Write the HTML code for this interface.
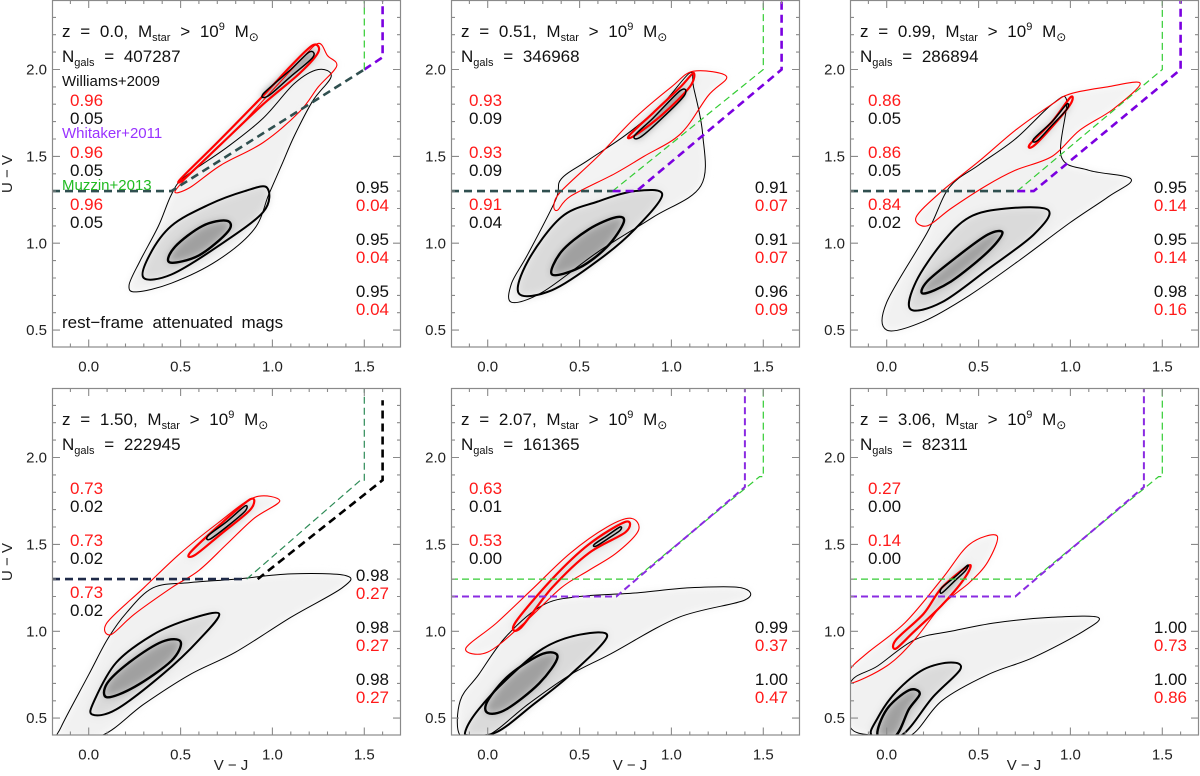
<!DOCTYPE html>
<html><head><meta charset="utf-8"><style>
html,body{margin:0;padding:0;background:#fff;}
svg{display:block;font-family:"Liberation Sans",sans-serif;}
</style></head><body>
<svg id="chart" width="1200" height="776" viewBox="0 0 1200 776">
<defs>
<filter id="blur" x="-20%" y="-20%" width="140%" height="140%"><feGaussianBlur stdDeviation="4"/></filter>
</defs>
</svg>
<script>
// ---- data ----
const xTicks = [0.0, 0.5, 1.0, 1.5];
const yTicks = [0.5, 1.0, 1.5, 2.0];
const xTickLabels = ["0.0","0.5","1.0","1.5"];
const yTickLabels = ["0.5","1.0","1.5","2.0"];
const redshifts = ["0.0","0.51","0.99","1.50","2.07","3.06"];
const ngals = ["407287","346968","286894","222945","161365","82311"];
const leftRed = [["0.96","0.96","0.96"],["0.93","0.93","0.91"],["0.86","0.86","0.84"],["0.73","0.73","0.73"],["0.63","0.53"],["0.27","0.14"]];
const leftBlack = [["0.05","0.05","0.05"],["0.09","0.09","0.04"],["0.05","0.05","0.02"],["0.02","0.02","0.02"],["0.01","0.00"],["0.00","0.00"]];
const rightBlack = [["0.95","0.95","0.95"],["0.91","0.91","0.96"],["0.95","0.95","0.98"],["0.98","0.98","0.98"],["0.99","1.00"],["1.00","1.00"]];
const rightRed = [["0.04","0.04","0.04"],["0.07","0.07","0.09"],["0.14","0.14","0.16"],["0.27","0.27","0.27"],["0.37","0.47"],["0.73","0.86"]];

const blueOuter = [
 [[0.22,0.76],[0.26,0.72],[0.45,0.77],[0.7,0.9],[0.9,1.08],[0.98,1.28],[1.05,1.45],[1.12,1.62],[1.22,1.82],[1.32,1.96],[1.25,2.0],[1.12,1.92],[0.95,1.72],[0.75,1.55],[0.52,1.38],[0.45,1.28],[0.38,1.1],[0.28,0.9]],
 [[0.13,0.66],[0.3,0.72],[0.6,0.95],[0.9,1.15],[1.16,1.33],[1.17,1.63],[1.12,1.9],[1.1,1.98],[0.95,1.8],[0.76,1.63],[0.55,1.48],[0.4,1.37],[0.37,1.25],[0.22,0.94],[0.13,0.77]],
 [[0.0,0.5],[0.2,0.55],[0.45,0.7],[0.72,0.9],[1.0,1.12],[1.21,1.27],[1.33,1.37],[1.1,1.42],[0.95,1.5],[0.98,1.82],[0.9,1.8],[0.7,1.6],[0.5,1.45],[0.34,1.32],[0.22,1.06],[0.0,0.66]],
 [[-0.15,0.4],[0.07,0.4],[0.3,0.58],[0.55,0.75],[0.8,0.88],[1.1,1.08],[1.38,1.25],[1.4,1.32],[1.1,1.33],[0.8,1.3],[0.55,1.28],[0.35,1.25],[0.2,1.1],[0.1,0.95],[0.0,0.75],[-0.15,0.45]],
 [[-0.15,0.4],[0.0,0.4],[0.22,0.58],[0.45,0.75],[0.67,0.87],[1.04,1.08],[1.4,1.18],[1.38,1.25],[1.1,1.25],[0.8,1.22],[0.5,1.2],[0.3,1.15],[0.1,0.97],[-0.05,0.75],[-0.15,0.6]],
 [[-0.2,0.45],[-0.05,0.4],[0.13,0.4],[0.3,0.6],[0.55,0.75],[0.8,0.85],[1.07,1.0],[1.15,1.08],[0.9,1.08],[0.6,1.05],[0.35,1.0],[0.15,0.95],[-0.05,0.8],[-0.2,0.7]]
];
const blueMid = [
 [[0.3,0.8],[0.45,0.82],[0.7,0.98],[0.95,1.18],[0.97,1.32],[0.85,1.3],[0.65,1.22],[0.45,1.1],[0.33,0.93]],
 [[0.17,0.71],[0.35,0.73],[0.6,0.9],[0.8,1.08],[0.95,1.28],[0.8,1.3],[0.6,1.24],[0.4,1.15],[0.22,0.9]],
 [[0.13,0.62],[0.3,0.66],[0.55,0.85],[0.8,1.05],[0.88,1.19],[0.65,1.2],[0.45,1.15],[0.3,1.0],[0.16,0.78]],
 [[0.02,0.52],[0.15,0.55],[0.4,0.75],[0.6,0.95],[0.71,1.1],[0.55,1.07],[0.35,0.98],[0.15,0.82],[0.03,0.6]],
 [[-0.1,0.4],[0.05,0.42],[0.25,0.58],[0.45,0.75],[0.65,0.97],[0.5,0.98],[0.3,0.9],[0.1,0.72],[-0.05,0.55],[-0.12,0.43]],
 [[-0.08,0.4],[0.08,0.4],[0.25,0.62],[0.4,0.78],[0.35,0.82],[0.2,0.78],[0.05,0.65],[-0.05,0.5]]
];
const blueInner = [
 [[0.44,0.89],[0.6,0.93],[0.76,1.07],[0.75,1.13],[0.62,1.1],[0.47,0.98]],
 [[0.35,0.82],[0.5,0.86],[0.65,0.98],[0.74,1.12],[0.7,1.15],[0.55,1.08],[0.4,0.95]],
 [[0.2,0.71],[0.35,0.78],[0.55,0.95],[0.63,1.06],[0.55,1.05],[0.38,0.92],[0.22,0.78]],
 [[0.1,0.62],[0.25,0.68],[0.45,0.83],[0.5,0.94],[0.4,0.94],[0.22,0.82],[0.1,0.7]],
 [[0.0,0.53],[0.1,0.55],[0.28,0.7],[0.38,0.85],[0.3,0.87],[0.12,0.75],[0.0,0.6]],
 [[-0.05,0.4],[0.05,0.4],[0.12,0.55],[0.18,0.64],[0.12,0.66],[0.0,0.55]]
];
const redOuter = [
 [[0.47,1.3],[0.6,1.45],[0.8,1.65],[1.0,1.88],[1.15,2.05],[1.25,2.15],[1.3,2.08],[1.35,2.02],[1.25,1.9],[1.15,1.76],[0.95,1.58],[0.72,1.45],[0.55,1.32]],
 [[0.36,1.22],[0.4,1.3],[0.6,1.5],[0.8,1.72],[1.0,1.9],[1.12,1.99],[1.3,1.96],[1.2,1.85],[1.05,1.63],[0.85,1.5],[0.69,1.4],[0.45,1.27],[0.38,1.19]],
 [[0.16,1.15],[0.3,1.3],[0.5,1.47],[0.7,1.65],[0.9,1.8],[1.0,1.86],[1.2,1.9],[1.38,1.92],[1.23,1.77],[1.05,1.65],[0.9,1.5],[0.7,1.42],[0.54,1.33],[0.35,1.2],[0.22,1.1]],
 [[0.1,1.05],[0.3,1.25],[0.5,1.45],[0.7,1.62],[0.9,1.77],[1.04,1.75],[0.9,1.65],[0.75,1.5],[0.6,1.35],[0.45,1.25],[0.25,1.1],[0.12,0.98]],
 [[-0.12,0.9],[0.05,1.05],[0.25,1.25],[0.45,1.45],[0.65,1.6],[0.78,1.65],[0.82,1.58],[0.7,1.45],[0.55,1.35],[0.4,1.25],[0.2,1.05],[0.0,0.88]],
 [[-0.2,0.78],[-0.1,0.88],[0.1,1.05],[0.3,1.3],[0.45,1.5],[0.6,1.55],[0.55,1.4],[0.45,1.28],[0.3,1.15],[0.15,0.95],[0.0,0.8],[-0.2,0.7]]
];
const redInner = [
 [[0.5,1.37],[0.7,1.58],[0.95,1.85],[1.1,2.02],[1.22,2.14],[1.25,2.1],[1.15,1.98],[0.95,1.8],[0.72,1.57],[0.53,1.38]],
 [[0.77,1.62],[0.9,1.75],[1.05,1.9],[1.12,1.98],[1.1,1.9],[0.95,1.74],[0.8,1.62]],
 [[0.78,1.57],[0.9,1.7],[1.0,1.84],[1.0,1.8],[0.9,1.67],[0.8,1.56]],
 [[0.55,1.45],[0.7,1.6],[0.88,1.76],[0.88,1.7],[0.72,1.56],[0.58,1.44]],
 [[0.15,1.05],[0.35,1.3],[0.55,1.5],[0.75,1.63],[0.75,1.57],[0.55,1.45],[0.35,1.25],[0.18,1.02]],
 [[0.05,0.95],[0.2,1.1],[0.3,1.25],[0.45,1.38],[0.42,1.3],[0.3,1.15],[0.15,1.0],[0.05,0.9]]
];
const redCore = [
 [[0.95,1.86],[1.1,2.0],[1.2,2.1],[1.22,2.07],[1.1,1.96],[0.98,1.85]],
 [[0.8,1.62],[0.9,1.72],[1.05,1.88],[1.07,1.85],[0.95,1.72],[0.83,1.61]],
 [[0.8,1.6],[0.9,1.7],[0.98,1.8],[0.98,1.77],[0.9,1.68],[0.82,1.59]],
 [[0.65,1.55],[0.75,1.63],[0.85,1.72],[0.85,1.69],[0.75,1.6],[0.66,1.53]],
 [[0.58,1.5],[0.65,1.55],[0.72,1.6],[0.72,1.58],[0.65,1.53],[0.59,1.49]],
 [[0.3,1.25],[0.38,1.32],[0.44,1.38],[0.43,1.35],[0.37,1.29],[0.3,1.22]]
];
// selection-box lines: [panel, colour, width-class, points]
const selLines = [
 [0,"#2f4f4f","thick",[[-0.2,1.3],[0.45,1.3],[1.5,2.0]]],
 [0,"#7b00e0","thick",[[1.5,2.0],[1.6,2.07],[1.6,2.4]]],
 [0,"#33cc33","thin",[[1.5,2.0],[1.5,2.4]]],
 [1,"#2f4f4f","thick",[[-0.2,1.3],[0.68,1.3]]],
 [1,"#33cc33","thin",[[0.68,1.3],[1.5,2.0],[1.5,2.4]]],
 [1,"#7b00e0","thick",[[0.68,1.3],[0.81,1.3],[1.6,2.0],[1.6,2.4]]],
 [2,"#2f4f4f","thick",[[-0.2,1.3],[0.71,1.3]]],
 [2,"#33cc33","thin",[[0.71,1.3],[1.5,2.0],[1.5,2.4]]],
 [2,"#7b00e0","thick",[[0.71,1.3],[0.8,1.3],[1.6,2.0],[1.6,2.4]]],
 [3,"#1f2a48","thick",[[-0.2,1.3],[0.86,1.3]]],
 [3,"#2e8b57","thin",[[0.86,1.3],[1.48,1.87],[1.5,1.87],[1.5,2.4]]],
 [3,"#000000","thick",[[0.92,1.3],[1.6,1.87],[1.6,2.33]]],
 [4,"#33cc33","thin",[[-0.2,1.3],[0.8,1.3],[1.48,1.89],[1.5,1.89],[1.5,2.4]]],
 [4,"#8a2be2","mid",[[-0.2,1.2],[0.7,1.2],[1.4,1.83],[1.4,2.4]]],
 [5,"#33cc33","thin",[[-0.2,1.3],[0.8,1.3],[1.48,1.89],[1.5,1.89],[1.5,2.4]]],
 [5,"#8a2be2","mid",[[-0.2,1.2],[0.7,1.2],[1.4,1.83],[1.4,2.4]]]
];

// ---- layout ----
const NS = "http://www.w3.org/2000/svg";
const svg = document.getElementById("chart");
const panelLefts = [52,451,850], panelTops = [0,388];
const PW = 349, PH = 347.5;
const XMIN=-0.2, XMAX=1.7, YMIN=0.4, YMAX=2.4;
function mk(tag, attrs, parent){ const e=document.createElementNS(NS,tag); for(const k in attrs) e.setAttribute(k,attrs[k]); (parent||svg).appendChild(e); return e; }

for(let p=0;p<6;p++){
  const L = panelLefts[p%3], T = panelTops[Math.floor(p/3)];
  const sx = v => L + (v-XMIN)/(XMAX-XMIN)*PW;
  const sy = v => T + (YMAX-v)/(YMAX-YMIN)*PH;
  const pts = arr => arr.map(d=>sx(d[0]).toFixed(1)+","+sy(d[1]).toFixed(1)).join(" ");
  // smooth closed curve through data vertices (Catmull-Rom)
  const smooth = arr => {
    const P = arr.map(d=>[sx(d[0]),sy(d[1])]); const n=P.length;
    let s = `M${P[0][0].toFixed(1)},${P[0][1].toFixed(1)}`;
    for(let i=0;i<n;i++){
      const p0=P[(i-1+n)%n], p1=P[i], p2=P[(i+1)%n], p3=P[(i+2)%n];
      const c1=[p1[0]+(p2[0]-p0[0])/6, p1[1]+(p2[1]-p0[1])/6];
      const c2=[p2[0]-(p3[0]-p1[0])/6, p2[1]-(p3[1]-p1[1])/6];
      s += `C${c1[0].toFixed(1)},${c1[1].toFixed(1)} ${c2[0].toFixed(1)},${c2[1].toFixed(1)} ${p2[0].toFixed(1)},${p2[1].toFixed(1)}`;
    }
    return s+"Z";
  };
  const g = mk("g",{});
  
  
  const cp = mk("clipPath",{id:"cp"+p},g);
  mk("rect",{x:L,y:T,width:PW,height:PH},cp);
  const plot = mk("g",{"clip-path":"url(#cp"+p+")"},g);
  // density shading
  const dens = mk("g",{filter:"url(#blur)"},plot);
  
  
  mk("path",{d:smooth(blueOuter[p]),fill:"#f1f1f1"},dens);
  mk("path",{d:smooth(redOuter[p]),fill:"#f3f3f3"},dens);
  mk("path",{d:smooth(blueMid[p]),fill:"#dadada"},dens);
  mk("path",{d:smooth(redInner[p]),fill:"#d4d4d4"},dens);
  mk("path",{d:smooth(blueInner[p]),fill:"#a0a0a0"},dens);
  mk("path",{d:smooth(redCore[p]),fill:"#808080"},dens);
  // contours
  const c1 = mk("path",{d:smooth(blueOuter[p]),fill:"none",stroke:"#000","stroke-width":1},plot);
  
  
  const c2 = mk("path",{d:smooth(blueMid[p]),fill:"none",stroke:"#000","stroke-width":2},plot);
  
  
  const c3 = mk("path",{d:smooth(blueInner[p]),fill:"none",stroke:"#000","stroke-width":2.4},plot);
  
  
  const r1 = mk("path",{d:smooth(redOuter[p]),fill:"none",stroke:"#ff0000","stroke-width":1.1},plot);
  
  
  const r2 = mk("path",{d:smooth(redInner[p]),fill:"none",stroke:"#ff0000","stroke-width":2.2},plot);
  
  
  const r3 = mk("path",{d:smooth(redCore[p]),fill:"none",stroke:"#000","stroke-width":1.5},plot);
  
  
  // selection lines
  selLines.filter(s=>s[0]===p).forEach(s=>{
    const w = s[2]==="thick"?2.6:(s[2]==="mid"?2:1.2);
    const da = s[2]==="thick"?"8 5":"7 4";
    const pl = mk("polyline",{points:pts(s[3]),fill:"none",stroke:s[1],"stroke-width":w,"stroke-dasharray":da},plot);
    
    
  });
  // frame
  const fr = mk("rect",{x:L+0.5,y:T+0.5,width:PW-1,height:PH-1,fill:"none",stroke:"#8a8a8a","stroke-width":1.2},g);
  
  
  // ticks
  let d="";
  for(let i=-2;i<=17;i++){ const v=i/10; const x=sx(v); if(x<L+1||x>L+PW-1) continue; const len=(i%5===0)?8:4; d+=`M${x.toFixed(1)},${T+PH}v${-len}M${x.toFixed(1)},${T}v${len}`; }
  for(let i=4;i<=24;i++){ const v=i/10; const y=sy(v); if(y<T+1||y>T+PH-1) continue; const len=(i%5===0)?8:4; d+=`M${L},${y.toFixed(1)}h${len}M${L+PW},${y.toFixed(1)}h${-len}`; }
  const tk = mk("path",{d:d,stroke:"#8a8a8a","stroke-width":1.1,fill:"none"},g);
  
  
  xTicks.forEach((v,i)=>{
    const t = mk("text",{x:sx(v),y:T+PH+24,"text-anchor":"middle","font-size":15,fill:"#222"},g);
    t.textContent = xTickLabels[i];
    
    
  });
  yTicks.forEach((v,i)=>{
    const t = mk("text",{x:L-5,y:sy(v)+5,"text-anchor":"end","font-size":15,fill:"#222"},g);
    t.textContent = yTickLabels[i];
    
    
  });
  // title
  const tt = mk("text",{x:L+10,y:T+37,"font-size":17,fill:"#111","word-spacing":"5px"},g);
  
  
  tt.innerHTML = `z = ${redshifts[p]}, M<tspan font-size="11" dy="4">star</tspan><tspan dy="-4"> &gt; 10</tspan><tspan font-size="11" dy="-7">9</tspan><tspan dy="7"> M</tspan><tspan font-size="12" dy="4">⊙</tspan>`;
  const ng = mk("text",{x:L+10,y:T+62,"font-size":17,fill:"#111","word-spacing":"5px"},g);
  
  
  ng.innerHTML = `N<tspan font-size="11" dy="4">gals</tspan><tspan dy="-4"> = ${ngals[p]}</tspan>`;
  // fractions
  const leftYs = [100,152,204];
  leftRed[p].forEach((s,i)=>{
    const a = mk("text",{x:L+18,y:T+leftYs[i]+6,"font-size":17,fill:"#ff1a1a"},g);
    a.textContent = s;
    
    
    const b = mk("text",{x:L+18,y:T+leftYs[i]+24,"font-size":17,fill:"#111"},g);
    b.textContent = leftBlack[p][i];
    
    
  });
  const rightYs = (p>=4)?[239,291]:[187,239,291];
  rightBlack[p].forEach((s,i)=>{
    const a = mk("text",{x:L+337,y:T+rightYs[i]+6,"font-size":17,fill:"#111","text-anchor":"end"},g);
    a.textContent = s;
    
    
    const b = mk("text",{x:L+337,y:T+rightYs[i]+24,"font-size":17,fill:"#ff1a1a","text-anchor":"end"},g);
    b.textContent = rightRed[p][i];
    
    
  });
}
</script>
<script>
// static labels on first panel + axis titles
(function(){
  const NS="http://www.w3.org/2000/svg", svg=document.getElementById("chart");
  function txt(x,y,s,fs,fill,name,extra){ const t=document.createElementNS(NS,"text"); t.setAttribute("x",x); t.setAttribute("y",y); t.setAttribute("font-size",fs); t.setAttribute("fill",fill); if(extra) for(const k in extra) t.setAttribute(k,extra[k]); t.textContent=s; svg.appendChild(t);
    
    
    return t; }
  txt(62,86,"Williams+2009",15,"#111","legend-williams-2009");
  txt(62,138,"Whitaker+2011",15,"#9933ff","legend-whitaker-2011");
  txt(62,190,"Muzzin+2013",15,"#22bb22","legend-muzzin-2013");
  txt(62,328,"rest−frame attenuated mags",17,"#111","magnitude-note",{"word-spacing":"4px"});
  txt(630,770,"V − J",15,"#222","x-axis-title",{"text-anchor":"middle"});
  txt(231,770,"V − J",15,"#222","x-axis-title",{"text-anchor":"middle"});
  txt(1024,770,"V − J",15,"#222","x-axis-title",{"text-anchor":"middle"});
  txt(0,0,"U − V",15,"#222","y-axis-title",{"text-anchor":"middle","transform":"translate(12,174) rotate(-90)"});
  txt(0,0,"U − V",15,"#222","y-axis-title",{"text-anchor":"middle","transform":"translate(12,562) rotate(-90)"});
})();
</script>
</body></html>
